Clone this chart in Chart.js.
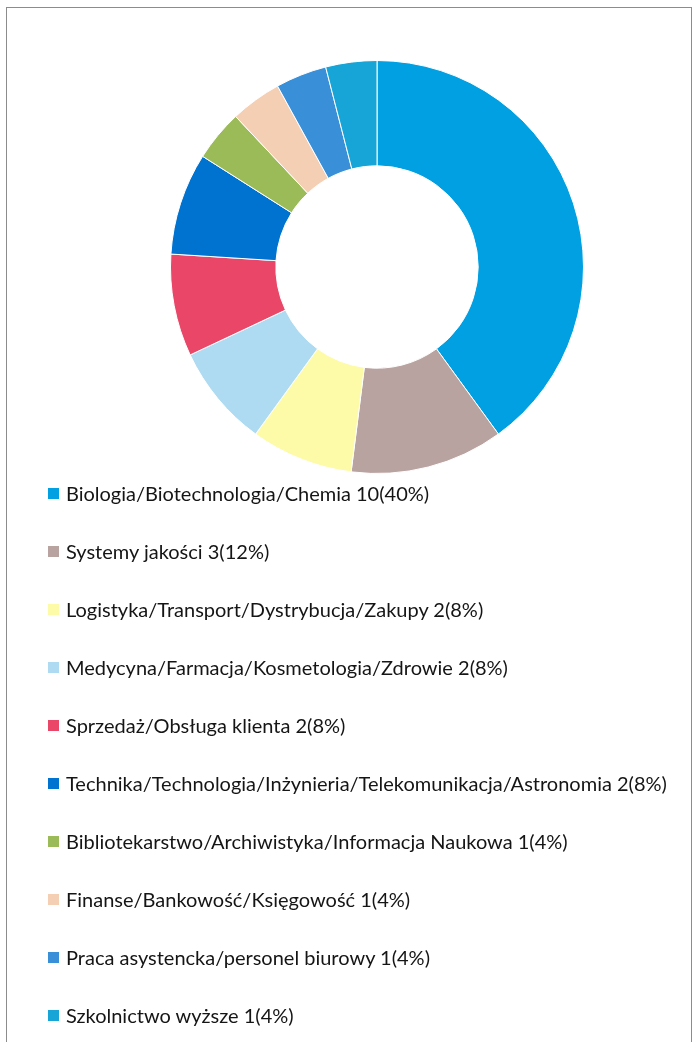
<!DOCTYPE html>
<html>
<head>
<meta charset="utf-8">
<script src="https://cdn.jsdelivr.net/npm/chart.js@4.4.0/dist/chart.umd.min.js"></script>
<style>
    body { margin: 0; background: #fff; width: 694px; height: 1042px; overflow: hidden; position: relative; }
    #frame { position: absolute; left: 6px; top: 7px; width: 684px; height: 1100px; border: 1px solid #8c8c8c; }
    #chartBox { position: absolute; left: 167px; top: 60px; width: 420px; height: 414px; }
    #legend { position: absolute; left: 48px; top: 464px; margin: 0; padding: 0; list-style: none;
              font-family: Lato, 'Open Sans', sans-serif; font-size: 20px; color: #151515; }
    #legend li { height: 58px; display: flex; align-items: center; }
    #legend .box { width: 11px; height: 11px; margin-right: 7px; flex: none; }
</style>
</head>
<body>
<div id="frame"></div>
<div id="chartBox"><canvas id="donut"></canvas></div>
<ul id="legend"></ul>
<script>
const categories = [
    'Biologia/Biotechnologia/Chemia',
    'Systemy jakości',
    'Logistyka/Transport/Dystrybucja/Zakupy',
    'Medycyna/Farmacja/Kosmetologia/Zdrowie',
    'Sprzedaż/Obsługa klienta',
    'Technika/Technologia/Inżynieria/Telekomunikacja/Astronomia',
    'Bibliotekarstwo/Archiwistyka/Informacja Naukowa',
    'Finanse/Bankowość/Księgowość',
    'Praca asystencka/personel biurowy',
    'Szkolnictwo wyższe'
];
const counts = [10, 3, 2, 2, 2, 2, 1, 1, 1, 1];
const percents = [40, 12, 8, 8, 8, 8, 4, 4, 4, 4];
const colors = ['#00a0e3', '#b9a3a0', '#fdfba8', '#aedbf1', '#ea4668', '#0072cf',
                '#9bbb59', '#f5cfb3', '#3a90d8', '#17a4d6'];

document.addEventListener('DOMContentLoaded', function () {
    const ctx = document.getElementById('donut').getContext('2d');

    new Chart(ctx, {
        type: 'doughnut',
        data: {
            labels: categories,
            datasets: [{
                data: counts,
                backgroundColor: colors,
                borderColor: '#ffffff',
                borderWidth: 1
            }]
        },
        options: {
            responsive: true,
            maintainAspectRatio: false,
            animation: false,
            cutout: '49%',
            layout: { padding: 0 },
            plugins: {
                legend: { display: false },
                tooltip: { enabled: false }
            }
        }
    });

    // legend below the chart, one entry per line
    const legend = document.getElementById('legend');
    for (let i = 0; i < categories.length; i++) {
        const item = `
            <li>
                <span class="box" style="background:${colors[i]}"></span>
                <span>${categories[i]} ${counts[i]}(${percents[i]}%)</span>
            </li>
        `;
        legend.insertAdjacentHTML('beforeend', item);
    }
});
</script>
</body>
</html>
